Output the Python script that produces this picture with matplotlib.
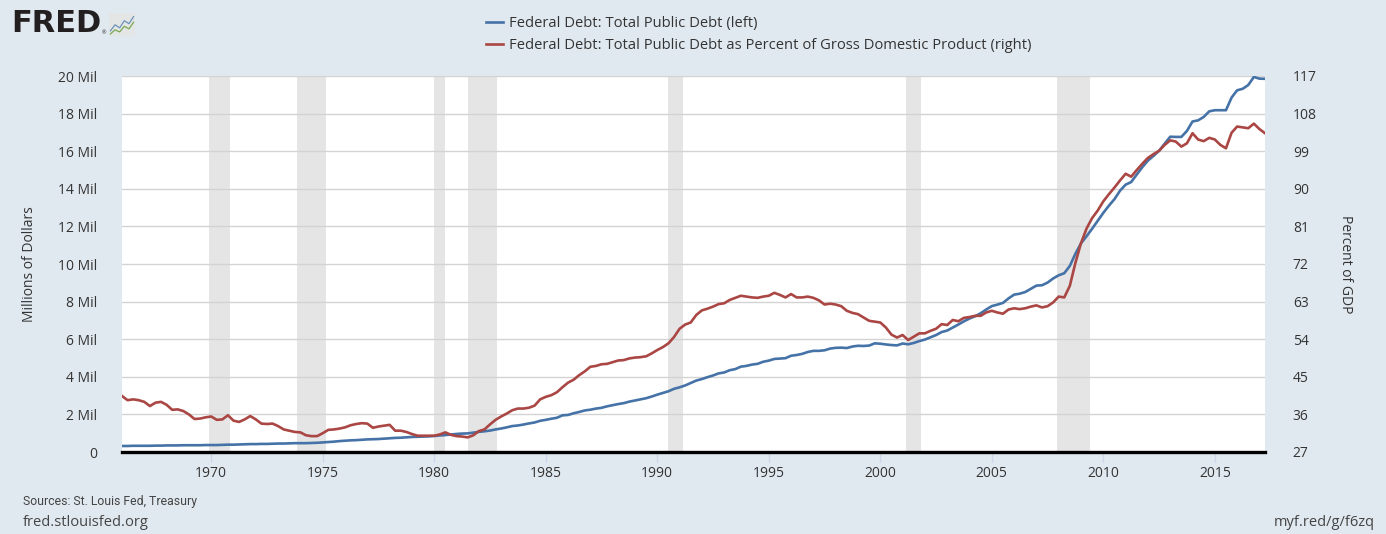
import numpy as np
import matplotlib
matplotlib.use("Agg")
import matplotlib.pyplot as plt
from matplotlib.ticker import FixedLocator, FuncFormatter
from matplotlib.font_manager import FontProperties

plt.rcParams['font.family'] = ['Open Sans', 'DejaVu Sans']

# ---------------- data (quarterly, starting 1966 Q1) ----------------
start_year = 1966

debt_total_mil = [
    0.32, 0.32, 0.33, 0.33,  0.33, 0.33, 0.34, 0.34,  0.35, 0.35, 0.35, 0.36,  # 1966-68
    0.36, 0.36, 0.36, 0.37,  0.37, 0.37, 0.38, 0.39,  0.39, 0.40, 0.41, 0.42,  # 1969-71
    0.42, 0.43, 0.43, 0.44,  0.45, 0.45, 0.46, 0.47,  0.47, 0.47, 0.48, 0.49,  # 1972-74
    0.51, 0.53, 0.55, 0.58,  0.60, 0.62, 0.63, 0.65,  0.67, 0.68, 0.69, 0.71,  # 1975-77
    0.73, 0.75, 0.76, 0.78,  0.80, 0.81, 0.82, 0.83,  0.85, 0.88, 0.90, 0.93,  # 1978-80
    0.96, 0.98, 0.99, 1.03,  1.07, 1.10, 1.14, 1.20,  1.25, 1.31, 1.38, 1.41,  # 1981-83
    1.46, 1.52, 1.57, 1.66,  1.71, 1.77, 1.82, 1.95,  1.97, 2.06, 2.13, 2.21,  # 1984-86
    2.25, 2.31, 2.35, 2.43,  2.49, 2.55, 2.60, 2.68,  2.74, 2.80, 2.86, 2.95,  # 1987-89
    3.05, 3.14, 3.23, 3.36,  3.44, 3.54, 3.67, 3.80,  3.88, 3.98, 4.07, 4.18,  # 1990-92
    4.23, 4.35, 4.41, 4.54,  4.58, 4.65, 4.69, 4.80,  4.86, 4.95, 4.97, 4.99,  # 1993-95
    5.12, 5.16, 5.22, 5.32,  5.38, 5.38, 5.41, 5.50,  5.54, 5.55, 5.53, 5.61,  # 1996-98
    5.65, 5.64, 5.66, 5.78,  5.76, 5.72, 5.69, 5.67,  5.77, 5.73, 5.80, 5.90,  # 1999-2001
    5.98, 6.10, 6.22, 6.38,  6.46, 6.62, 6.78, 6.95,  7.10, 7.22, 7.38, 7.58,  # 2002-04
    7.76, 7.84, 7.93, 8.17,  8.37, 8.42, 8.51, 8.68,  8.85, 8.87, 9.01, 9.23,  # 2005-07
    9.40, 9.51, 9.90, 10.55, 11.10, 11.48, 11.88, 12.30, 12.72, 13.10, 13.45, 13.90,  # 2008-10
    14.22, 14.36, 14.76, 15.15, 15.50, 15.75, 16.02, 16.40, 16.77, 16.76, 16.76, 17.08,  # 2011-13
    17.58, 17.64, 17.82, 18.12, 18.18, 18.18, 18.18, 18.85, 19.24, 19.32, 19.52, 19.95,  # 2014-16
    19.86, 19.85,  # 2017
]

debt_pct_gdp = [
    40.4, 39.4, 39.6, 39.4,  39.0, 38.0, 38.8, 39.0,  38.3, 37.1, 37.2, 36.8,  # 1966-68
    36.0, 34.9, 35.0, 35.3,  35.5, 34.7, 34.8, 35.8,  34.5, 34.2, 34.8, 35.6,  # 1969-71
    34.8, 33.8, 33.7, 33.8,  33.2, 32.4, 32.1, 31.8,  31.7, 31.0, 30.8, 30.8,  # 1972-74
    31.5, 32.3, 32.4, 32.6,  32.9, 33.4, 33.7, 33.9,  33.8, 32.8, 33.1, 33.3,  # 1975-77
    33.5, 32.1, 32.1, 31.8,  31.3, 30.9, 30.9, 30.9,  30.9, 31.2, 31.7, 31.1,  # 1978-80
    30.8, 30.7, 30.5, 31.0,  32.0, 32.4, 33.6, 34.7,  35.5, 36.2, 37.0, 37.4,  # 1981-83
    37.4, 37.6, 38.1, 39.6,  40.2, 40.6, 41.3, 42.5,  43.6, 44.3, 45.4, 46.3,  # 1984-86
    47.4, 47.6, 48.0, 48.1,  48.5, 48.9, 49.0, 49.4,  49.6, 49.7, 49.9, 50.6,  # 1987-89
    51.4, 52.1, 53.0, 54.5,  56.5, 57.5, 58.0, 59.8,  60.9, 61.3, 61.8, 62.4,  # 1990-92
    62.6, 63.4, 63.9, 64.4,  64.2, 64.0, 63.9, 64.2,  64.4, 65.1, 64.6, 64.0,  # 1993-95
    64.8, 64.0, 64.0, 64.2,  63.9, 63.3, 62.3, 62.5,  62.3, 61.9, 60.8, 60.3,  # 1996-98
    60.0, 59.2, 58.4, 58.2,  58.0, 56.8, 55.1, 54.4,  55.0, 53.8, 54.6, 55.4,  # 1999-2001
    55.4, 56.0, 56.5, 57.6,  57.4, 58.6, 58.3, 59.1,  59.3, 59.6, 59.6, 60.4,  # 2002-04
    60.8, 60.4, 60.1, 61.1,  61.4, 61.2, 61.4, 61.8,  62.1, 61.6, 61.9, 62.8,  # 2005-07
    64.2, 64.0, 66.8, 72.3,  77.0, 80.5, 83.0, 84.8,  87.0, 88.7, 90.3, 92.0,  # 2008-10
    93.6, 92.9, 94.5, 96.0,  97.4, 98.3, 99.1, 100.5,  101.6, 101.3, 100.1, 100.9,  # 2011-13
    103.3, 101.8, 101.4, 102.2,  101.8, 100.5, 99.7, 103.4,  104.9, 104.7, 104.5, 105.6,  # 2014-16
    104.3, 103.3,  # 2017
]

# NBER recessions (decimal years, start, end)
recessions = [(1969.917, 1970.833), (1973.833, 1975.167), (1980.0, 1980.5),
              (1981.5, 1982.833), (1990.5, 1991.167), (2001.167, 2001.833),
              (2007.917, 2009.417)]

left_ticks = [0, 2, 4, 6, 8, 10, 12, 14, 16, 18, 20]
right_ticks = [27, 36, 45, 54, 63, 72, 81, 90, 99, 108, 117]
year_ticks = [1970, 1975, 1980, 1985, 1990, 1995, 2000, 2005, 2010, 2015]

label_left = "Federal Debt: Total Public Debt (left)"
label_right = "Federal Debt: Total Public Debt as Percent of Gross Domestic Product (right)"

logo_blue = [1.0, 2.2, 1.6, 3.0, 2.4, 3.8]
logo_green = [0.4, 1.2, 0.8, 1.9, 1.4, 2.7]

# ---------------- styling ----------------
W, H = 1386, 534
BG = '#e1e9f0'
BLUE = '#4572a7'
RED = '#aa4643'
TXT = '#333333'
GRID = '#d3d3d3'
SHADE = '#e5e5e5'

fig = plt.figure(figsize=(W / 100, H / 100), dpi=100, facecolor=BG)

L, R, T, B = 122, 1265, 76, 452
ax = fig.add_axes([L / W, 1 - B / H, (R - L) / W, (B - T) / H])
ax.set_facecolor('white')
ax2 = ax.twinx()

n = len(debt_total_mil)
x = start_year + np.arange(n) / 4.0

for s, e in recessions:
    ax.axvspan(s, e, color=SHADE, lw=0, zorder=0)

line_b, = ax.plot(x, debt_total_mil, color=BLUE, lw=1.9, zorder=3, solid_joinstyle='round')
line_r, = ax2.plot(x, debt_pct_gdp, color=RED, lw=1.9, zorder=3, solid_joinstyle='round')

ax.set_xlim(1966.0, 2017.25)
ax.set_ylim(0, 20)
ax2.set_ylim(27, 117)

ax.yaxis.set_major_locator(FixedLocator(left_ticks))
ax.yaxis.set_major_formatter(FuncFormatter(lambda v, p: "0" if v == 0 else f"{int(v)} Mil"))
ax2.yaxis.set_major_locator(FixedLocator(right_ticks))
ax2.yaxis.set_major_formatter(FuncFormatter(lambda v, p: f"{int(v)}"))
ax.xaxis.set_major_locator(FixedLocator(year_ticks))

ax.grid(axis='y', color=GRID, lw=1.0, zorder=1)
ax.set_axisbelow(True)
ax.axhline(0, color='black', lw=2.4, zorder=5, clip_on=False)

for a in (ax, ax2):
    for sp in a.spines.values():
        sp.set_visible(False)

ax.tick_params(axis='y', length=0, pad=18, labelsize=10, labelcolor=TXT)
ax2.tick_params(axis='y', length=0, pad=20, labelsize=10, labelcolor=TXT)
ax.tick_params(axis='x', length=7, width=1, color='#ccd6eb', pad=3, labelsize=10, labelcolor=TXT)

ax.set_ylabel("Millions of Dollars", fontsize=10, color=TXT)
ax.yaxis.set_label_coords((37 - L) / (R - L), 0.5)
ax2.set_ylabel("Percent of GDP", fontsize=10, color=TXT, rotation=270, va='center')
ax2.yaxis.set_label_coords((1345 - L) / (R - L), 0.5)

# legend
leg_font = FontProperties(family=['Open Sans', 'DejaVu Sans'], size=10.65)
fig.legend([line_b, line_r], [label_left, label_right], loc='upper left',
           bbox_to_anchor=(486 / W, 1 - 16 / H), frameon=False, prop=leg_font,
           handlelength=1.15, handletextpad=0.42, labelspacing=0.5,
           borderpad=0, borderaxespad=0, labelcolor=TXT)

# footer
fig.text(23 / W, 1 - 501 / H, "Sources: St. Louis Fed, Treasury", fontsize=8.8,
         family=['Roboto', 'DejaVu Sans'], color='#444444', va='center', ha='left')
fig.text(23 / W, 1 - 523 / H, "fred.stlouisfed.org", fontsize=10.5, color='#444444',
         va='center', ha='left')
fig.text(1375 / W, 1 - 523 / H, "myf.red/g/f6zq", fontsize=10.5, color='#444444',
         va='center', ha='right')

# FRED logo
fig.text(11 / W, 1 - 24 / H, "FRED", fontsize=22, fontweight='bold', color='#231f20',
         family=['DejaVu Sans'], va='center', ha='left')
fig.text(102 / W, 1 - 33 / H, "®", fontsize=4, color='#231f20', va='center', ha='left')
iax = fig.add_axes([109 / W, 1 - 36 / H, 26 / W, 23 / H])
iax.set_facecolor('#e4e6e6')
iax.plot(range(len(logo_blue)), logo_blue, color='#6d93b8', lw=0.9)
iax.plot(range(len(logo_green)), logo_green, color='#7aa852', lw=0.9)
iax.set_xlim(-0.3, len(logo_blue) - 0.7)
iax.set_ylim(0, 4.5)
iax.set_xticks([]); iax.set_yticks([])
for sp in iax.spines.values():
    sp.set_visible(False)

fig.savefig("out.png", dpi=100, facecolor=BG)
